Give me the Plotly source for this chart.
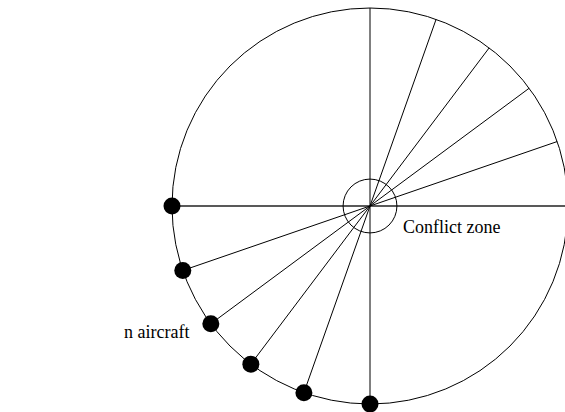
import numpy as np
import plotly.graph_objects as go

# Data: directions (degrees) of the aircraft paths through the conflict zone
path_angles_deg = [0, 19, 36.5, 53, 70.5, 90]
outer_radius = 1.0
conflict_radius = 0.136
labels = ["Conflict zone", "n aircraft"]

theta = np.radians(path_angles_deg)
fig = go.Figure()

# Diameters (aircraft paths)
for i, t in enumerate(theta):
    xs = [outer_radius * np.cos(t + np.pi), outer_radius * np.cos(t)]
    ys = [outer_radius * np.sin(t + np.pi), outer_radius * np.sin(t)]
    fig.add_trace(go.Scatter(
        x=xs, y=ys, mode="lines",
        line=dict(color="#222" if i == 0 else "black", width=1.4 if i == 0 else 1),
        hoverinfo="skip", showlegend=False))

# Aircraft positions (dots on lower-left of the circle)
fig.add_trace(go.Scatter(
    x=outer_radius * np.cos(theta + np.pi),
    y=outer_radius * np.sin(theta + np.pi),
    mode="markers",
    marker=dict(color="black", size=17),
    hoverinfo="skip",
    showlegend=False))

# Outer circle and conflict-zone circle
fig.add_shape(type="circle", xref="x", yref="y",
              x0=-outer_radius, y0=-outer_radius, x1=outer_radius, y1=outer_radius,
              line=dict(color="black", width=1), layer="below")
fig.add_shape(type="circle", xref="x", yref="y",
              x0=-conflict_radius, y0=-conflict_radius, x1=conflict_radius, y1=conflict_radius,
              line=dict(color="black", width=1))

fig.add_annotation(x=0.157, y=-0.106, text=labels[0], showarrow=False,
                   xanchor="left", yanchor="middle",
                   font=dict(family="Liberation Serif", size=18, color="black"))
fig.add_annotation(x=-1.2525, y=-0.636, text=labels[1], showarrow=False,
                   xanchor="left", yanchor="middle",
                   font=dict(family="Liberation Serif", size=18, color="black"))

px_per_unit = 198.0
cx, cy = 370.0, 206.0  # centre in figure pixels
W, H = 565, 412
fig.update_layout(
    width=W, height=H,
    margin=dict(l=0, r=0, t=0, b=0),
    paper_bgcolor="white", plot_bgcolor="white",
    showlegend=False,
    hovermode=False,
    xaxis=dict(range=[-cx / px_per_unit, (W - cx) / px_per_unit], visible=False, fixedrange=True),
    yaxis=dict(range=[-(H - cy) / px_per_unit, cy / px_per_unit], visible=False, fixedrange=True),
)

fig.write_html("out.html",
               config={"displayModeBar": False, "staticPlot": True},
               post_script="document.body.style.margin='0';document.body.style.overflow='hidden';")
